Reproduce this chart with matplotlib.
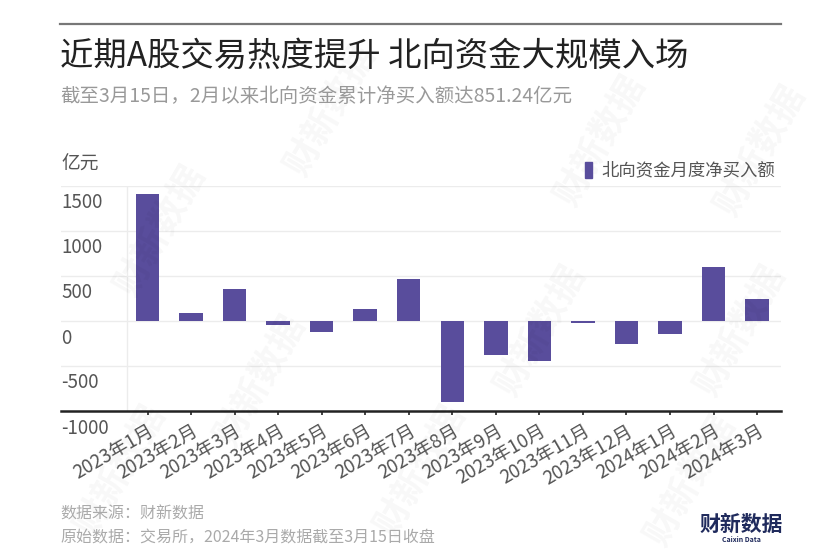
import matplotlib.pyplot as plt
from matplotlib.lines import Line2D

plt.rcParams['font.family'] = ['Noto Sans CJK SC', 'DejaVu Sans']

months = ['2023年1月', '2023年2月', '2023年3月', '2023年4月', '2023年5月',
          '2023年6月', '2023年7月', '2023年8月', '2023年9月', '2023年10月',
          '2023年11月', '2023年12月', '2024年1月', '2024年2月', '2024年3月']
net_buy = [1406, 90, 354, -45, -123, 138, 466, -896, -373, -448,
           -22, -257, -146, 604, 247]
yticks = [1500, 1000, 500, 0, -500, -1000]

bar_color = '#594d9c'

fig = plt.figure(figsize=(8.4, 5.6), dpi=100)
W, H = 840, 560

# faint watermarks
for (wx, wy) in [(160, 230), (330, 110), (600, 140), (760, 150), (260, 380),
                 (540, 330), (740, 330), (420, 470), (690, 480), (120, 470)]:
    fig.text(wx / W, 1 - wy / H, '财新数据', fontsize=26, rotation=60,
             color='#000000', alpha=0.03, ha='center', va='center',
             fontweight='bold', zorder=0)

ax = fig.add_axes([61 / W, (H - 411) / H, 720 / W, (411 - 186) / H])
ax.set_facecolor('none')

x = list(range(len(months)))
ax.bar(x, net_buy, width=0.54, color=bar_color, zorder=3)

ax.set_xlim(-1.987, 14.55)
ax.set_ylim(-1000, 1500)
for v in yticks:
    if v != -1000:
        ax.axhline(v, color='#ececec', lw=1, zorder=1)
    ax.annotate(str(v), xy=(-1.987, v), xytext=(0, -17),
                textcoords='offset pixels', ha='left', va='center',
                fontsize=13.5, color='#555555', annotation_clip=False)
ax.axvline(-0.48, color='#ececec', lw=1, zorder=1)

for s in ['top', 'right', 'left']:
    ax.spines[s].set_visible(False)
ax.spines['bottom'].set_color('#222222')
ax.spines['bottom'].set_linewidth(1.8)
ax.set_yticks([])
ax.set_xticks(x)
ax.set_xticklabels(months, rotation=30, ha='right', rotation_mode='anchor',
                   fontsize=13.5, color='#555555')
ax.tick_params(axis='x', length=3, width=1.2, color='#222222', pad=4)

# legend
fig.patches.append(plt.Rectangle((585 / W, 1 - 178 / H), 7 / W, 16 / H,
                                 transform=fig.transFigure, color=bar_color,
                                 figure=fig))
fig.text(601 / W, 1 - 170 / H, '北向资金月度净买入额', fontsize=12.5,
         color='#555555', va='center', ha='left')
fig.text(61 / W, 1 - 164 / H, '亿元', fontsize=13.5, color='#555555',
         va='center', ha='left')

# header
fig.add_artist(Line2D([60 / W, 781 / W], [1 - 24 / H, 1 - 24 / H],
                      color='#777777', lw=1.6))
fig.text(60 / W, 1 - 56 / H, '近期A股交易热度提升 北向资金大规模入场',
         fontsize=24, color='#222222', va='center', ha='left')
fig.text(60 / W, 1 - 96 / H, '截至3月15日，2月以来北向资金累计净买入额达851.24亿元',
         fontsize=14, color='#999999', va='center', ha='left')

# footer
fig.text(60 / W, 1 - 514 / H, '数据来源：财新数据', fontsize=11.5,
         color='#aaaaaa', va='center', ha='left')
fig.text(60 / W, 1 - 538 / H, '原始数据：交易所，2024年3月数据截至3月15日收盘',
         fontsize=11.5, color='#aaaaaa', va='center', ha='left')
fig.text(741 / W, 1 - 524 / H, '财新数据', fontsize=15, fontweight='bold',
         color='#1f2a5c', va='center', ha='center')
fig.text(741 / W, 1 - 540 / H, 'Caixin Data', fontsize=5, fontweight='bold',
         color='#1f2a5c', va='center', ha='center')

fig.savefig('out.png', dpi=100, facecolor='white')
